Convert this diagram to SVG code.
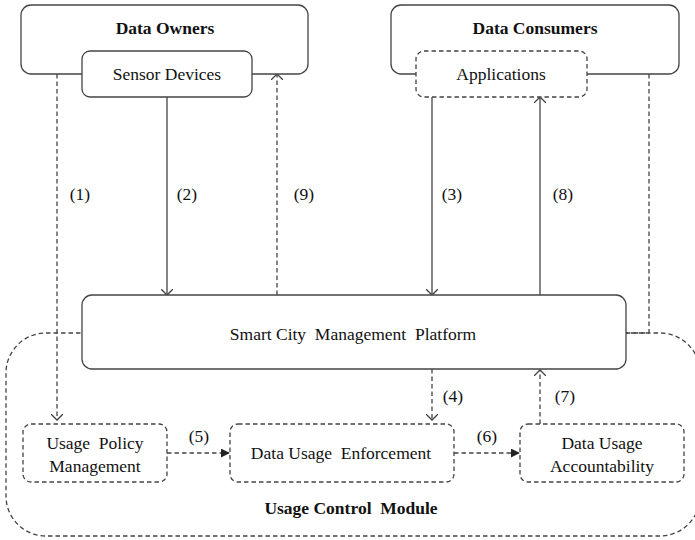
<svg xmlns="http://www.w3.org/2000/svg" width="695" height="540" viewBox="0 0 695 540">
<defs>
<style>
text{font-family:'Liberation Serif','Times New Roman',serif;font-size:17.5px;fill:#111;text-anchor:middle;white-space:pre}
.b{font-weight:bold}
.box{fill:#fff;stroke:#444;stroke-width:1.3}
.dbox{fill:#fff;stroke:#444;stroke-width:1.3;stroke-dasharray:4.5,3}
.ln{fill:none;stroke:#444;stroke-width:1.3}
.dl{fill:none;stroke:#444;stroke-width:1.3;stroke-dasharray:4.5,3}
</style>
<marker id="open" viewBox="0 0 12 12" refX="6" refY="6" markerWidth="12" markerHeight="12" markerUnits="userSpaceOnUse" orient="auto">
<path d="M0,0 L6,6 L0,12" fill="none" stroke="#444" stroke-width="1.3"/>
</marker>
<marker id="fill" viewBox="0 0 10 10" refX="9" refY="5" markerWidth="9" markerHeight="9" markerUnits="userSpaceOnUse" orient="auto">
<path d="M0,0 L10,5 L0,10 Z" fill="#222"/>
</marker>
</defs>
<g font-family="Liberation Serif, serif">
<g id="usage-control-module">
<rect class="dbox" x="6" y="333" width="694" height="203" rx="40"/>
<text class="b" x="351" y="514" xml:space="preserve">Usage Control  Module</text>
</g>
<g id="connectors">
<path class="dl" d="M57,74 V420" marker-end="url(#open)"/>
<path class="ln" d="M167,97 V295" marker-end="url(#open)"/>
<path class="dl" d="M277,295 V74" marker-end="url(#open)"/>
<path class="ln" d="M432,97 V295" marker-end="url(#open)"/>
<path class="ln" d="M540,295 V97" marker-end="url(#open)"/>
<path class="dl" d="M649,74 V333 H626"/>
<path class="dl" d="M432,369 V420" marker-end="url(#open)"/>
<path class="dl" d="M540,424 V370" marker-end="url(#open)"/>
<path class="dl" d="M167,453 H229" marker-end="url(#fill)"/>
<path class="dl" d="M454,453 H519" marker-end="url(#fill)"/>
<text x="80" y="200">(1)</text>
<text x="187" y="200">(2)</text>
<text x="304" y="200">(9)</text>
<text x="452" y="200">(3)</text>
<text x="563" y="200">(8)</text>
<text x="453" y="402">(4)</text>
<text x="565" y="402">(7)</text>
<text x="199" y="442">(5)</text>
<text x="487" y="442">(6)</text>
</g>
<g id="data-owners">
<rect class="box" x="21" y="5" width="287" height="69" rx="10"/>
<text class="b" x="165" y="34">Data Owners</text>
</g>
<g id="sensor-devices">
<rect class="box" x="82" y="51" width="170" height="46" rx="8"/>
<text x="167" y="80">Sensor Devices</text>
</g>
<g id="data-consumers">
<rect class="box" x="391" y="5" width="288" height="69" rx="10"/>
<text class="b" x="535" y="34">Data Consumers</text>
</g>
<g id="applications">
<rect class="dbox" x="416" y="51" width="171" height="46" rx="8"/>
<text x="501" y="80">Applications</text>
</g>
<g id="platform">
<rect class="box" x="82" y="295" width="544" height="74" rx="10"/>
<text x="353" y="340" xml:space="preserve">Smart City  Management  Platform</text>
</g>
<g id="usage-policy-management">
<rect class="dbox" x="23" y="424" width="144" height="58" rx="8"/>
<text x="95" y="449" xml:space="preserve">Usage  Policy</text>
<text x="95" y="472">Management</text>
</g>
<g id="data-usage-enforcement">
<rect class="dbox" x="230" y="424" width="224" height="58" rx="8"/>
<text x="341" y="459" xml:space="preserve">Data Usage  Enforcement</text>
</g>
<g id="data-usage-accountability">
<rect class="dbox" x="520" y="424" width="164" height="58" rx="8"/>
<text x="602" y="449">Data Usage</text>
<text x="602" y="472">Accountability</text>
</g>
</g>
</svg>
